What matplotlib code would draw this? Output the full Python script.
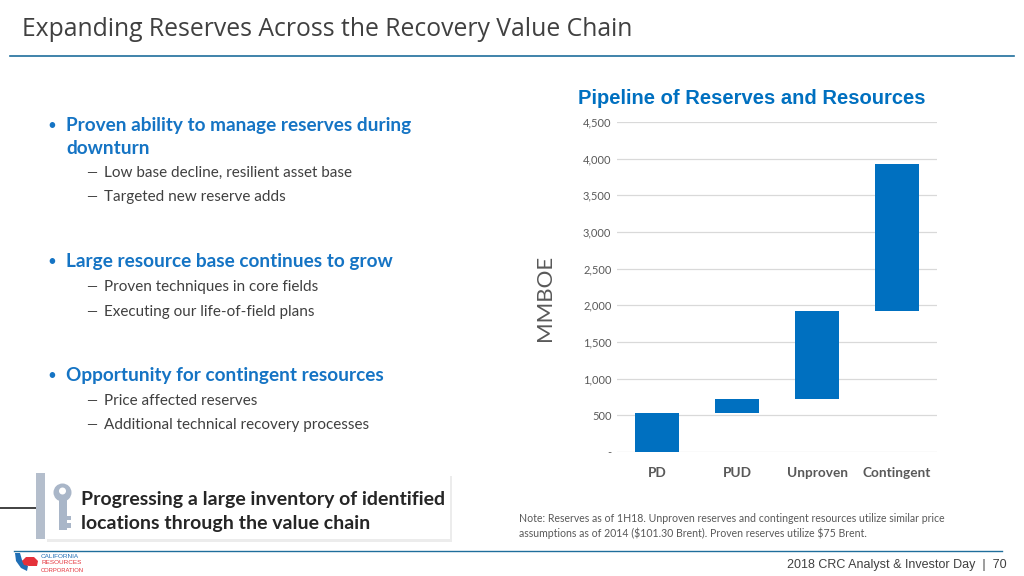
import matplotlib
matplotlib.use("Agg")
import matplotlib.pyplot as plt
from matplotlib.patches import Rectangle, Circle, Polygon

# data (MMBOE)
categories = ["PD", "PUD", "Unproven", "Contingent"]
adds = [535, 185, 1205, 2000]
bases = [0, 535, 720, 1925]
y_ticks = [0, 500, 1000, 1500, 2000, 2500, 3000, 3500, 4000, 4500]
y_tick_labels = ["-", "500", "1,000", "1,500", "2,000", "2,500", "3,000", "3,500", "4,000", "4,500"]

BLUE = "#0070C0"
BULLET_BLUE = "#1574C4"
DARK = "#404040"
GREY = "#595959"

plt.rcParams["font.family"] = ["Lato", "DejaVu Sans"]

fig = plt.figure(figsize=(10.24, 5.76), dpi=100)

# background layer in pixel coordinates
bg = fig.add_axes([0, 0, 1, 1])
bg.set_xlim(0, 1024)
bg.set_ylim(576, 0)
bg.axis("off")

# title + rules
bg.text(22, 30, "Expanding Reserves Across the Recovery Value Chain", fontsize=17.8,
        color=DARK, va="center", ha="left", family=["Open Sans", "DejaVu Sans"])
bg.plot([10, 1014], [55.5, 55.5], color="#1F6E9C", lw=1.2)
bg.plot([14, 1002], [550.5, 550.5], color="#1F6E9C", lw=1.0)

# bullets
bullets = [
    (126, "Proven ability to manage reserves during", True),
    (148, "downturn", True),
    (173, "Low base decline, resilient asset base", False),
    (197, "Targeted new reserve adds", False),
    (262, "Large resource base continues to grow", True),
    (287, "Proven techniques in core fields", False),
    (312, "Executing our life-of-field plans", False),
    (376, "Opportunity for contingent resources", True),
    (401, "Price affected reserves", False),
    (425, "Additional technical recovery processes", False),
]
first_lines = {126, 262, 376}
for y, txt, main in bullets:
    if main:
        if y in first_lines:
            bg.text(47, y, "\u2022", fontsize=11, color=BULLET_BLUE, va="center", ha="left")
        bg.text(66, y, txt, fontsize=13.7, color=BULLET_BLUE, fontweight="bold",
                va="center", ha="left")
    else:
        bg.text(86, y, "\u2014", fontsize=10, color=DARK, va="center", ha="left")
        bg.text(104, y, txt, fontsize=11, color=DARK, va="center", ha="left")

# key callout
bg.plot([0, 37], [507.5, 507.5], color="#333333", lw=1.3)
bg.add_patch(Rectangle((47, 476), 405, 66, facecolor="#ECECEC", edgecolor="none", zorder=1))
bg.add_patch(Rectangle((44, 473), 406, 66, facecolor="white", edgecolor="none", zorder=2))
bg.add_patch(Rectangle((36, 473), 9, 66, facecolor="#B4BECC", edgecolor="none", zorder=3))
key_c = "#A9B6C8"
bg.add_patch(Circle((62.5, 492.5), 9, facecolor=key_c, edgecolor="none", zorder=3))
bg.add_patch(Circle((62.5, 491), 3.5, facecolor="white", edgecolor="none", zorder=4))
bg.add_patch(Rectangle((58.5, 500), 8, 30, facecolor=key_c, edgecolor="none", zorder=3))
bg.add_patch(Rectangle((66, 516), 5, 4, facecolor=key_c, edgecolor="none", zorder=3))
bg.add_patch(Rectangle((66, 523), 5, 5, facecolor=key_c, edgecolor="none", zorder=3))
bg.text(81, 499, "Progressing a large inventory of identified", fontsize=14,
        fontweight="bold", color="#262626", va="center", ha="left", zorder=5)
bg.text(81, 524, "locations through the value chain", fontsize=14,
        fontweight="bold", color="#262626", va="center", ha="left", zorder=5)

# note + footer
bg.text(519, 518, "Note: Reserves as of 1H18. Unproven reserves and contingent resources utilize similar price",
        fontsize=7.6, color=GREY, va="center", ha="left")
bg.text(519, 533, "assumptions as of 2014 (\\$101.30 Brent). Proven reserves utilize \\$75 Brent.",
        fontsize=7.6, color=GREY, va="center", ha="left")
bg.text(1007, 565, "2018 CRC Analyst & Investor Day  |  70", fontsize=9, color=DARK,
        va="center", ha="right", family=["Liberation Sans", "DejaVu Sans"])

# logo
bg.add_patch(Polygon([(15, 553), (20, 553), (22, 560), (28, 566), (27, 571), (21, 568), (16, 561)],
                     closed=True, facecolor="#1F6EB5", edgecolor="none"))
bg.add_patch(Polygon([(22, 561), (26, 557), (34, 557), (38, 561), (37, 566), (29, 566), (24, 565)],
                     closed=True, facecolor="#E4313A", edgecolor="none"))
bg.text(41, 556, "CALIFORNIA", fontsize=4.6, color="#1F6EB5", va="center", ha="left",
        family=["Liberation Sans", "DejaVu Sans"])
bg.text(41, 563, "RESOURCES", fontsize=4.6, color="#E4313A", va="center", ha="left",
        family=["Liberation Sans", "DejaVu Sans"])
bg.text(41, 570, "CORPORATION", fontsize=4.2, color="#E4313A", va="center", ha="left",
        family=["Liberation Sans", "DejaVu Sans"])

# chart
ax = fig.add_axes([617 / 1024, 124 / 576, 320 / 1024, 330 / 576])
x = range(len(categories))
ax.bar(x, adds, bottom=bases, width=0.54, color=BLUE, zorder=3)
ax.set_xlim(-0.5, len(categories) - 0.5)
ax.set_ylim(0, 4500)
ax.set_yticks(y_ticks)
ax.set_yticklabels(y_tick_labels, fontsize=8, color=GREY)
ax.set_xticks(list(x))
ax.set_xticklabels(categories, fontsize=9.8, fontweight="bold", color=GREY)
ax.tick_params(axis="both", length=0, pad=4)
ax.tick_params(axis="x", pad=11)
ax.grid(axis="y", color="#D9D9D9", lw=0.9, zorder=0)
for s in ax.spines.values():
    s.set_visible(False)
ax.set_ylabel("MMBOE", fontsize=16, color=GREY)
ax.yaxis.set_label_coords(-0.195, 0.467)
ax.set_title("Pipeline of Reserves and Resources", fontsize=14.5, fontweight="bold",
             color=BLUE, pad=13, x=0.42, family=["Liberation Sans", "DejaVu Sans"])

fig.savefig("out.png", dpi=100)
